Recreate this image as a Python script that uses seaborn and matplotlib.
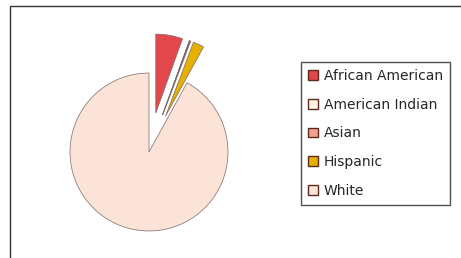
import matplotlib
matplotlib.use("Agg")
import matplotlib.pyplot as plt
from matplotlib.patches import Rectangle
import seaborn as sns

groups = ["African American", "American Indian", "Asian", "Hispanic", "White"]
shares = [5.5, 0.1, 0.15, 2.25, 92.0]
pulled = [0.5, 0.5, 0.5, 0.5, 0.0]
colors = ["#E2474C", "#FDF3E3", "#F4A18C", "#E5B000", "#FCE3D8"]

sns.set_theme(style="white")
plt.rcParams["font.family"] = ["DejaVu Sans"]
palette = sns.color_palette(colors)

fig = plt.figure(figsize=(4.61, 2.58), dpi=100)
fig.patch.set_facecolor("white")

# outer frame (bottom runs off the image)
fig.patches.append(Rectangle((10 / 461, -0.1), 1.0, (258 - 6) / 258 + 0.1,
                             transform=fig.transFigure, fill=False,
                             edgecolor="#333333", linewidth=1.0))

ax = fig.add_axes([49 / 461, 6 / 258, 200 / 461, 200 / 258])
wedges, _ = ax.pie(shares, explode=pulled, colors=palette, startangle=90,
                   counterclock=False,
                   wedgeprops=dict(edgecolor="#7A6A66", linewidth=0.5))
ax.set_xlim(-1.266, 1.266)
ax.set_ylim(-1.266, 1.266)
ax.set_aspect("equal")
ax.axis("off")

leg = fig.legend(wedges, groups, loc="upper left",
                 bbox_to_anchor=(301 / 461, (258 - 62) / 258),
                 frameon=True, fancybox=False, fontsize=10,
                 handlelength=0.72, handleheight=0.72, handletextpad=0.4,
                 labelspacing=1.06, borderpad=0.5, borderaxespad=0)
leg.get_frame().set_edgecolor("#222222")
leg.get_frame().set_linewidth(1.0)
for h in leg.legend_handles:
    h.set_edgecolor("#5A2A20")
    h.set_linewidth(1.0)

fig.savefig("out.png", dpi=100)
